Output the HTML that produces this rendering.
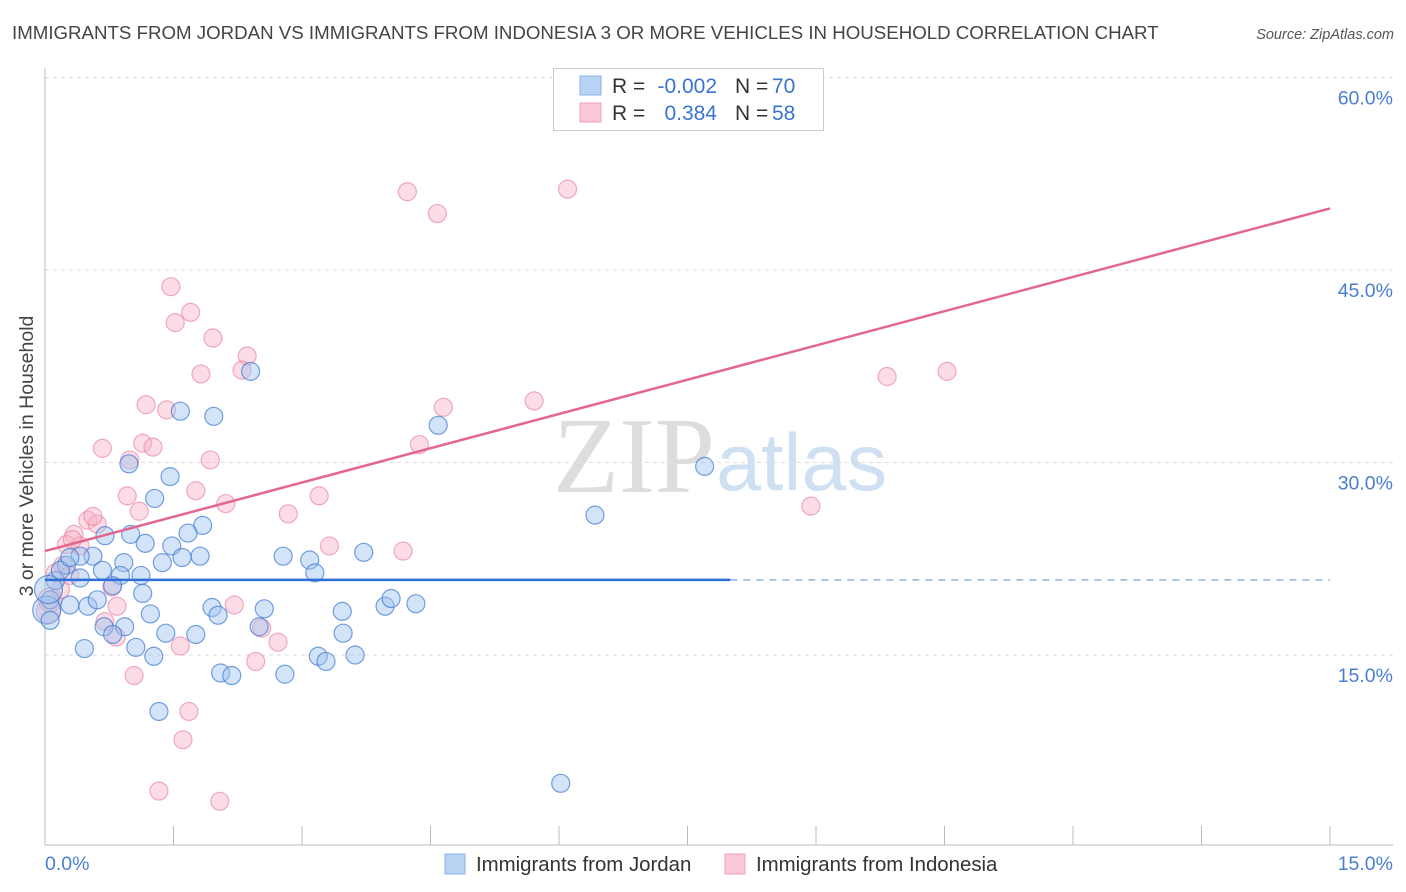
<!DOCTYPE html>
<html><head><meta charset="utf-8"><style>
body{margin:0;background:#fff;font-family:"Liberation Sans",sans-serif;}
svg{display:block}
</style></head><body>
<svg id="c" width="1406" height="892">
<text x="12" y="39" font-size="18.7" fill="#444">IMMIGRANTS FROM JORDAN VS IMMIGRANTS FROM INDONESIA 3 OR MORE VEHICLES IN HOUSEHOLD CORRELATION CHART</text>
<text x="1394" y="39" font-size="14.5" fill="#555" font-style="italic" text-anchor="end">Source: ZipAtlas.com</text>
<text transform="translate(33,456) rotate(-90)" font-size="19.5" fill="#444" text-anchor="middle">3 or more Vehicles in Household</text>
<text x="553" y="492" font-size="108" fill="#ddd" font-family="Liberation Serif">ZIP</text>
<text x="716" y="490" font-size="81" fill="#cfe0f3">atlas</text>
<g id="grid"></g><g id="pts"></g><g id="lines"></g>
<g>
<rect x="553.5" y="68.5" width="270" height="62" fill="#fff" stroke="#ccc"/>
<rect x="580" y="76" width="21" height="19" fill="#b9d3f5" stroke="#8ab0e6"/>
<rect x="580" y="103" width="21" height="19" fill="#fac8d6" stroke="#f0a0b8"/>
<text x="612" y="93" font-size="21" fill="#333">R =</text>
<text x="717" y="93" font-size="21" fill="#3b73d1" text-anchor="end">-0.002</text>
<text x="735" y="93" font-size="21" fill="#333">N =</text>
<text x="772" y="93" font-size="21" fill="#3b73d1">70</text>
<text x="612" y="120" font-size="21" fill="#333">R =</text>
<text x="717" y="120" font-size="21" fill="#3b73d1" text-anchor="end">0.384</text>
<text x="735" y="120" font-size="21" fill="#333">N =</text>
<text x="772" y="120" font-size="21" fill="#3b73d1">58</text>
</g>
<g>
<rect x="445" y="854" width="20" height="20" fill="#b9d3f5" stroke="#8ab0e6"/>
<text x="476" y="871" font-size="20.4" fill="#333">Immigrants from Jordan</text>
<rect x="725" y="854" width="20" height="20" fill="#fac8d6" stroke="#f0a0b8"/>
<text x="756" y="871" font-size="20.4" fill="#333">Immigrants from Indonesia</text>
</g>
</svg>
<script>
const xTicks=[0,1.5,3,4.5,6,7.5,9,10.5,12,13.5,15];
const yTicks=[15,30,45,60];
const yTickLabels=["15.0%","30.0%","45.0%","60.0%"];
const jordanX=[1.58,1.97,2.40,0.98,1.46,1.28,1.00,0.70,1.17,1.84,1.67,1.48,1.81,1.60,1.37,0.92,0.56,0.41,0.25,0.67,0.88,1.12,0.41,0.12,0.18,0.29,0.06,0.29,0.50,0.61,0.79,1.14,1.23,1.95,2.02,2.56,0.93,0.69,0.79,1.41,1.76,1.06,0.46,1.27,2.05,2.18,2.50,1.33,2.78,3.09,3.15,3.72,3.47,3.48,3.97,4.04,4.33,3.19,3.28,3.62,2.80,4.59,6.42,7.70,6.02,0.02,0.06,0.04];
const jordanY=[34.0,33.6,37.1,29.9,28.9,27.2,24.4,24.3,23.7,25.1,24.5,23.5,22.7,22.6,22.2,22.2,22.7,22.7,22.0,21.6,21.2,21.2,21.0,20.8,21.6,22.6,19.3,18.9,18.8,19.3,20.4,19.8,18.2,18.7,18.1,18.6,17.2,17.2,16.6,16.7,16.6,15.6,15.5,14.9,13.6,13.4,17.2,10.6,22.7,22.4,21.4,23.0,18.4,16.7,18.8,19.4,19.0,14.9,14.5,15.0,13.5,32.9,25.9,29.7,5.0,18.5,17.7,20.1];
const indoX=[4.23,6.10,4.58,1.47,1.70,1.52,1.96,2.36,2.30,1.82,1.18,1.42,0.67,1.14,1.26,0.99,1.93,0.96,1.76,1.10,2.11,2.84,3.20,0.50,0.61,0.56,0.34,0.25,0.41,0.78,0.84,0.70,0.83,2.21,2.53,2.72,1.58,2.46,1.04,3.32,4.18,4.65,5.71,4.37,9.83,10.53,8.94,1.68,1.61,1.33,2.04,0.12,0.06,0.04,0.18,0.21,0.29,0.32];
const indoY=[51.1,51.3,49.4,43.7,41.7,40.9,39.7,38.3,37.2,36.9,34.5,34.1,31.1,31.5,31.2,30.2,30.2,27.4,27.8,26.2,26.8,26.0,27.4,25.5,25.2,25.8,24.4,23.6,23.5,20.3,18.8,17.6,16.4,18.9,17.1,16.0,15.7,14.5,13.4,23.5,23.1,34.3,34.8,31.4,36.7,37.1,26.6,10.6,8.4,4.4,3.6,21.4,19.3,18.4,20.1,22.0,21.2,24.0];
const jordanTrend=[20.85,20.85];
const indoTrend=[23.1,49.8];
const NS="http://www.w3.org/2000/svg";
const X0=45,X1=1330,Y15=655,PXP=12.833;
function sx(v){return X0+(X1-X0)*v/15;}
function sy(v){return Y15-(v-15)*PXP;}
function mk(t,a,p){const e=document.createElementNS(NS,t);for(const k in a)e.setAttribute(k,a[k]);p.appendChild(e);return e;}
const grid=document.getElementById('grid');
yTicks.forEach((t,i)=>{
 const g=mk('line',{x1:45,x2:1393,y1:sy(t),y2:sy(t),stroke:'#ddd','stroke-dasharray':'4,4'},grid);
 
 
 const l=mk('text',{x:1393,y:sy(t)+27,'font-size':19.5,fill:'#4a7fd0','text-anchor':'end'},grid);
 l.textContent=yTickLabels[i];
 
 
});
mk('line',{x1:45,x2:45,y1:68,y2:845,stroke:'#bbb'},grid);
mk('line',{x1:45,x2:1393,y1:845,y2:845,stroke:'#bbb'},grid);
xTicks.forEach(t=>{const e=mk('line',{x1:sx(t),x2:sx(t),y1:826,y2:845,stroke:'#bbb'},grid);
 
 });
const xl0=mk('text',{x:45,y:870,'font-size':19.5,fill:'#4a7fd0'},grid);xl0.textContent='0.0%';


const xl1=mk('text',{x:1393,y:870,'font-size':19.5,fill:'#4a7fd0','text-anchor':'end'},grid);xl1.textContent='15.0%';


const pts=document.getElementById('pts');
indoX.forEach((x,i)=>{const c=mk('circle',{cx:sx(x),cy:sy(indoY[i]),r:(x<0.1?12:9),fill:'rgba(248,180,200,0.45)',stroke:'rgba(232,120,155,0.6)','stroke-width':1.2},pts);
 
 });
jordanX.forEach((x,i)=>{const c=mk('circle',{cx:sx(x),cy:sy(jordanY[i]),r:(x<0.05?14:9),fill:'rgba(160,196,240,0.45)',stroke:'rgba(60,120,210,0.7)','stroke-width':1.2},pts);
 
 });
const ln=document.getElementById('lines');
const jl=mk('line',{x1:sx(0),x2:sx(8),y1:sy(jordanTrend[0]),y2:sy(jordanTrend[0]+(jordanTrend[1]-jordanTrend[0])*8/15),stroke:'#2d6fd6','stroke-width':2.5},ln);


const jd=mk('line',{x1:sx(8),x2:sx(15),y1:sy(jordanTrend[0]+(jordanTrend[1]-jordanTrend[0])*8/15),y2:sy(jordanTrend[1]),stroke:'#6a9ad8','stroke-width':1.2,'stroke-dasharray':'7,6'},ln);


const il=mk('line',{x1:sx(0),x2:sx(15),y1:sy(indoTrend[0]),y2:sy(indoTrend[1]),stroke:'#e2668f','stroke-width':2.5},ln);


</script>
</body></html>
